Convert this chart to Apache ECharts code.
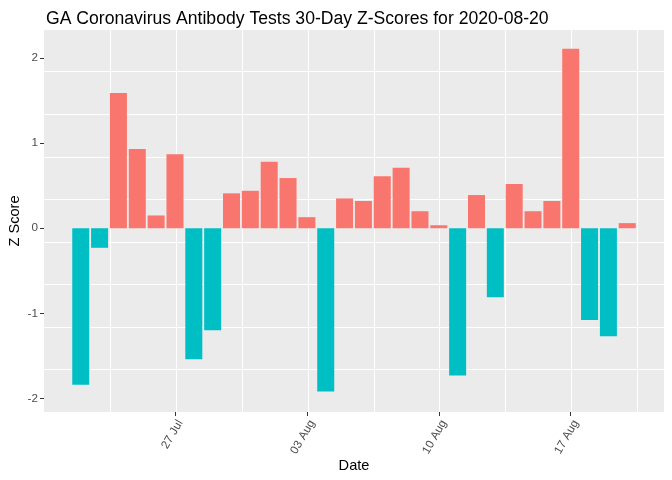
<!DOCTYPE html>
<html>
<head>
<meta charset="utf-8">
<script src="https://cdn.jsdelivr.net/npm/echarts@6/dist/echarts.min.js"></script>
<style>html,body{margin:0;padding:0;background:#fff}#c{width:672px;height:480px}</style>
</head>
<body>
<div id="c"></div>
<script>
const dates = ['2020-07-22','2020-07-23','2020-07-24','2020-07-25','2020-07-26','2020-07-27','2020-07-28','2020-07-29','2020-07-30','2020-07-31',
  '2020-08-01','2020-08-02','2020-08-03','2020-08-04','2020-08-05','2020-08-06','2020-08-07','2020-08-08','2020-08-09','2020-08-10',
  '2020-08-11','2020-08-12','2020-08-13','2020-08-14','2020-08-15','2020-08-16','2020-08-17','2020-08-18','2020-08-19','2020-08-20'];
const zScores = [-1.84,-0.23,1.59,0.93,0.15,0.87,-1.54,-1.20,0.41,0.44,
  0.78,0.59,0.13,-1.92,0.35,0.32,0.61,0.71,0.20,0.035,
  -1.73,0.39,-0.81,0.52,0.20,0.32,2.11,-1.08,-1.27,0.06];
const tickDates = ['2020-07-27','2020-08-03','2020-08-10','2020-08-17'];
const tickLabels = ['27 Jul','03 Aug','10 Aug','17 Aug'];
const yTicks = [-2,-1,0,1,2];

const DAY = 86400000;
const origin = Date.UTC(2020,6,20);
const toX = s => { const p = s.split('-').map(Number); return (Date.UTC(p[0],p[1]-1,p[2]) - origin) / DAY; };
const xs = dates.map(toX);
const tickXs = tickDates.map(toX);
const labelMap = {};
tickXs.forEach((x,i)=>{ labelMap[x] = tickLabels[i]; });

const X_MIN = 0.05, X_MAX = 32.95, Y_MIN = -2.16, Y_MAX = 2.33;

const chart = echarts.init(document.getElementById('c'), null, {renderer:'canvas'});
const font = 'Liberation Sans, Arial, sans-serif';
const hidden = {axisLine:{show:false}, axisTick:{show:false}, axisLabel:{show:false}};
chart.setOption({
  animation: false,
  title: {
    text: 'GA Coronavirus Antibody Tests 30-Day Z-Scores for 2020-08-20',
    left: 41, top: 5,
    textStyle: {fontFamily: font, fontSize: 17.6, fontWeight: 'normal', color: '#000'}
  },
  grid: {left: 44, right: 8, top: 30, bottom: 68, show: true, backgroundColor: '#EBEBEB', borderWidth: 0,
         containLabel: false, outerBoundsMode: 'none'},
  xAxis: [{
    type: 'value', min: X_MIN, max: X_MAX, position: 'bottom',
    name: 'Date', nameLocation: 'middle', nameGap: 46, nameMoveOverlap: false,
    nameTextStyle: {fontFamily: font, fontSize: 14.6, color: '#000'},
    axisLine: {show: false, onZero: false},
    axisTick: {show: true, length: 4, lineStyle: {color: '#333', width: 1}, customValues: tickXs},
    axisLabel: {
      customValues: tickXs, rotate: 60, margin: 6, verticalAlign: 'top',
      fontFamily: font, fontSize: 11.7, color: '#4D4D4D',
      formatter: v => labelMap[Math.round(v)] || ''
    },
    splitLine: {show: false}
  }, Object.assign({
    type: 'value', min: X_MIN, max: X_MAX, interval: 3.5, position: 'top',
    splitLine: {show: true, showMinLine: false, showMaxLine: false, lineStyle: {color: '#FFFFFF', width: 1}}
  }, hidden)],
  yAxis: [{
    type: 'value', min: Y_MIN, max: Y_MAX,
    name: 'Z Score', nameLocation: 'middle', nameGap: 22, nameRotate: 90, nameMoveOverlap: false,
    nameTextStyle: {fontFamily: font, fontSize: 14.6, color: '#000'},
    axisLine: {show: false, onZero: false},
    axisTick: {show: true, length: 4, lineStyle: {color: '#333', width: 1}, customValues: yTicks},
    axisLabel: {customValues: yTicks, margin: 6, fontFamily: font, fontSize: 11.7, color: '#4D4D4D'},
    splitLine: {show: false}
  }, Object.assign({
    type: 'value', min: Y_MIN, max: Y_MAX, interval: 0.5, position: 'right',
    splitLine: {show: true, showMinLine: false, showMaxLine: false, lineStyle: {color: '#FFFFFF', width: 1}}
  }, hidden)],
  series: [{
    type: 'bar',
    xAxisIndex: 0, yAxisIndex: 0,
    barWidth: 17,
    data: xs.map((x,i)=>[x, zScores[i]]),
    itemStyle: {color: p => p.value[1] >= 0 ? '#F8766D' : '#00BFC4'}
  }]
});
</script>
</body>
</html>
